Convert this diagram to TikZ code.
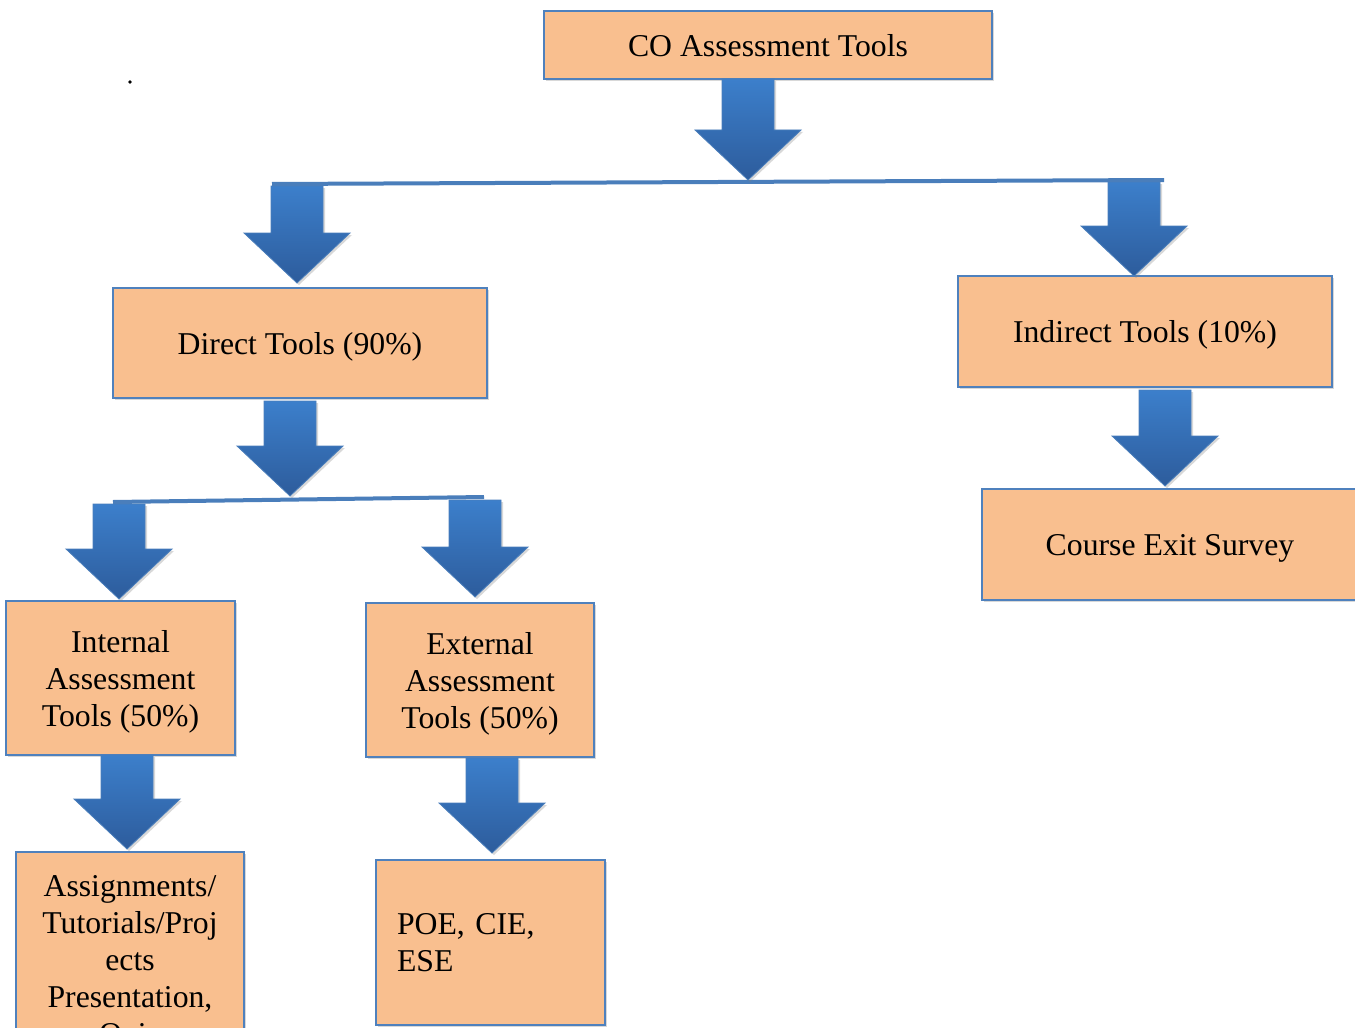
\documentclass[tikz,border=0pt]{standalone}
\usepackage{fontspec}
\setmainfont{Liberation Serif}
\usetikzlibrary{shadows,calc}
\definecolor{boxfill}{HTML}{F9BF8F}
\definecolor{boxline}{HTML}{4F81BD}
\definecolor{arrtop}{HTML}{3C7FCB}
\definecolor{arrbot}{HTML}{2D5C9C}
\definecolor{arrline}{HTML}{4A7EBB}
\tikzset{
  box/.style={draw=boxline, line width=1.3pt, fill=boxfill, inner sep=0pt,
    font=\fontsize{23.8}{27.75}\selectfont\frenchspacing, align=center, text depth=0pt,
    drop shadow={opacity=0.3, shadow xshift=1.5pt, shadow yshift=-1.5pt}},
  blockarrow/.style={top color=arrtop, bottom color=arrbot, draw=arrline, line width=0.6pt,
    drop shadow={opacity=0.3, shadow xshift=1.5pt, shadow yshift=-1.5pt}},
  splitbar/.style={draw=arrline, line width=3pt}
}
\newcommand\blockarr[2]{%
  \path[blockarrow] let \p1=#1, \p2=#2 in
    (\x1-19.5pt,\y1) -- (\x1+19.5pt,\y1) -- (\x1+19.5pt,\y2+37.5pt) --
    (\x1+39.75pt,\y2+37.5pt) -- (\x1,\y2) -- (\x1-39.75pt,\y2+37.5pt) --
    (\x1-19.5pt,\y2+37.5pt) -- cycle;}
\begin{document}
\begin{tikzpicture}[x=0.75pt,y=-0.75pt]
\useasboundingbox (0,0) rectangle (1355,1027);
\clip (0,0) rectangle (1355,1027);
\fill[white] (0,0) rectangle (1355,1027);
% dot
\fill (130,82) circle (1.8);
% boxes
\node[box, minimum width=448*0.75pt, minimum height=68*0.75pt] (co) at (768,45) {CO Assessment Tools};
\node[box, minimum width=374*0.75pt, minimum height=110*0.75pt] (direct) at (300,343) {Direct Tools (90\%)};
\node[box, minimum width=374*0.75pt, minimum height=111*0.75pt] (indirect) at (1145,331.5) {Indirect Tools (10\%)};
\node[box, minimum width=376*0.75pt, minimum height=111*0.75pt] (exit) at (1170,544.5) {Course Exit Survey};
\node[box, minimum width=229*0.75pt, minimum height=154*0.75pt] (internal) at (120.5,678) {Internal\\Assessment\\Tools (50\%)};
\node[box, minimum width=228*0.75pt, minimum height=154*0.75pt] (external) at (480,680) {External\\Assessment\\Tools (50\%)};
\node[box, minimum width=228*0.75pt, minimum height=216*0.75pt] (assign) at (130,960) {Assignments/\\Tutorials/Proj\\ects\\Presentation,\\Quiz};
\node[box, text depth=, minimum width=229*0.75pt, minimum height=165*0.75pt, text width=187*0.75pt, align=left] (poe) at (490.5,942.5) {POE, CIE,\\ESE};
% split bars
\coordinate (s1l) at (272,184);
\coordinate (s1r) at (1164,180);
\coordinate (s2l) at (113,502);
\coordinate (s2r) at (484,497);
\draw[splitbar] (s1l) -- (s1r);
\draw[splitbar] (s2l) -- (s2r);
% block arrows
\blockarr{(748,79)}{(748,180)}
\blockarr{(297,186)}{(297,283)}
\blockarr{(1134,182)}{(1134,276)}
\blockarr{(290,401)}{(290,496)}
\blockarr{(119,504)}{(119,599)}
\blockarr{(475,500)}{(475,597)}
\blockarr{(1165,390)}{(1165,486)}
\blockarr{(127,755)}{(127,849)}
\blockarr{(492,758)}{(492,853)}
\end{tikzpicture}
\end{document}
